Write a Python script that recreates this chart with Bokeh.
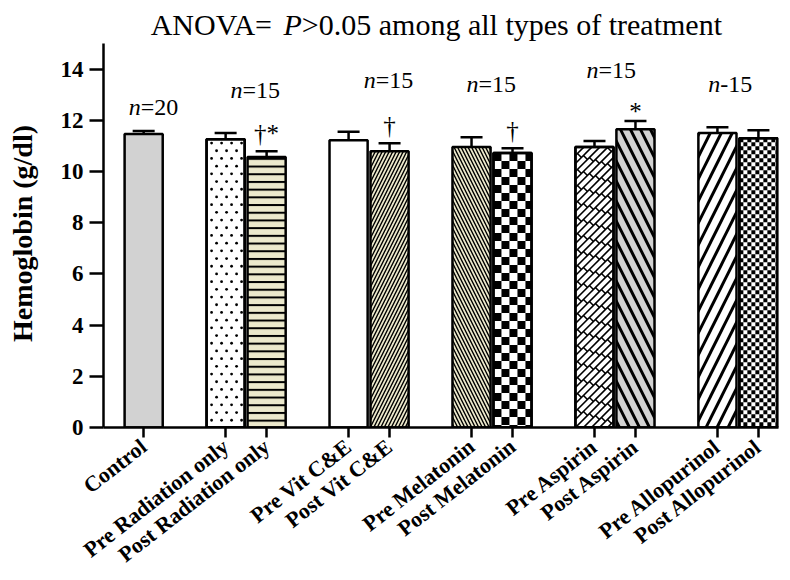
import math
from bokeh.plotting import figure
from bokeh.models import (ColumnDataSource, FixedTicker, Whisker, TeeHead, Label, Range1d)
from bokeh.core.properties import value
from bokeh.embed import file_html
from bokeh.resources import INLINE

# ---------------- data ----------------
groups = ["Control", "Radiation only", "Vit C&E", "Melatonin", "Aspirin", "Allopurinol"]
categories = ["Control",
              "Pre Radiation only", "Post Radiation only",
              "Pre Vit C&E", "Post Vit C&E",
              "Pre Melatonin", "Post Melatonin",
              "Pre Aspirin", "Post Aspirin",
              "Pre Allopurinol", "Post Allopurinol"]
hemoglobin = [11.46, 11.26, 10.56, 11.22, 10.79, 10.95, 10.72, 10.95, 11.65, 11.50, 11.30]
sem = [0.12, 0.24, 0.23, 0.33, 0.31, 0.39, 0.19, 0.24, 0.32, 0.23, 0.31]
group_n = ["20", "15", "15", "15", "15", "15"]
n_sign = ["=", "=", "=", "=", "=", "-"]
markers = ["", "", "†*", "", "†", "", "†", "", "*", "", ""]
y_ticks = [0, 2, 4, 6, 8, 10, 12, 14]

# ---------------- layout helpers ----------------
def slot(i):
    if i == 0:
        return 0
    g = (i - 1) // 2 + 1
    return 2 + 3 * (g - 1) + (i - 1) % 2

xs = [slot(i) for i in range(len(categories))]
group_centers = [0] + [2.5 + 3 * k for k in range(len(groups) - 1)]
n_shift = [-0.07, -0.09, 0.16, -0.33, -0.40, -0.43]
n_y = [12.5, 13.17, 13.56, 13.4, 13.95, 13.4]

FONT = "Liberation Serif"
BEIGE = "#ece9cc"
GREY = "#d2d2d2"
BAR_W = 0.93

X0, X1 = -0.98, 15.49
Y0, Y1 = 0, 16.52
FW, FH = 675, 423
PXX = FW / (X1 - X0)
PXY = FH / (Y1 - Y0)

styles = [
    dict(fill=GREY, hatch=None),
    dict(fill="white", hatch=None, dots=(10, 7.7)),
    dict(fill=BEIGE, hatch="horizontal_line", scale=7.7, weight=2),
    dict(fill="white", hatch=None),
    dict(fill=BEIGE, hatch="right_diagonal_line", scale=7, weight=1.4),
    dict(fill=BEIGE, hatch="left_diagonal_line", scale=7, weight=1.4),
    dict(fill="white", hatch=None, checker=8),
    dict(fill="white", hatch=None, brick=(8, 12)),
    dict(fill=GREY, hatch="left_diagonal_line", scale=20, weight=3),
    dict(fill="white", hatch="right_diagonal_line", scale=22, weight=3),
    dict(fill="white", hatch=None, checker=4),
]

# ---------------- figure ----------------
p = figure(width=780, height=570, output_backend="svg", toolbar_location=None,
           x_range=Range1d(X0, X1), y_range=Range1d(Y0, Y1),
           min_border_left=103, min_border_right=2, min_border_top=4, min_border_bottom=143,
           frame_width=FW, frame_height=FH)
p.outline_line_color = None
p.grid.visible = False
p.background_fill_color = "white"


def checker_quads(xc, h, c):
    cw, ch = c / PXX, c / PXY
    left0, right0 = xc - BAR_W / 2, xc + BAR_W / 2
    L, R, B, T = [], [], [], []
    for r in range(math.ceil(h / ch)):
        for k in range(math.ceil(BAR_W / cw)):
            if (r + k) % 2 == 0:
                L.append(left0 + k * cw)
                R.append(min(left0 + (k + 1) * cw, right0))
                T.append(h - r * ch)
                B.append(max(h - (r + 1) * ch, 0))
    return L, R, B, T


def dot_grid(xc, h, dx, dy):
    W, H = BAR_W * PXX, h * PXY
    left0 = xc - BAR_W / 2
    X, Y = [], []
    r = 0
    py = H - dy / 2
    while py > 2:
        px = 5 + (r % 2) * dx / 2
        while px < W - 3:
            X.append(left0 + px / PXX)
            Y.append(py / PXY)
            px += dx
        py -= dy
        r += 1
    return X, Y


def brick_segs(xc, h, s, blen):
    W, H = BAR_W * PXX, h * PXY
    left0 = xc - BAR_W / 2
    X0s, Y0s, X1s, Y1s = [], [], [], []

    def add(ax, ay, bx, by):
        X0s.append(left0 + ax / PXX); Y0s.append(ay / PXY)
        X1s.append(left0 + bx / PXX); Y1s.append(by / PXY)

    k0 = -math.ceil(W / s) - 1
    k1 = math.ceil(H / s) + 1
    for k in range(k0, k1):
        c = k * s
        xa, xb = max(0.0, -c), min(W, H - c)
        if xb > xa:
            add(xa, xa + c, xb, xb + c)
        off = (k % 2) * blen / 2
        j = -3
        while True:
            x = j * blen + off
            if x - s / 2 > W:
                break
            ex, ey = x - s / 2, x + c + s / 2
            if 0 <= x <= W and 0 <= x + c <= H and 0 <= ex <= W and 0 <= ey <= H:
                add(x, x + c, ex, ey)
            j += 1
    return X0s, Y0s, X1s, Y1s


for i, cat in enumerate(categories):
    st = styles[i]
    src = ColumnDataSource(dict(x=[xs[i]], top=[hemoglobin[i]]))
    kw = dict(x="x", top="top", bottom=0, width=BAR_W, source=src,
              fill_color=st["fill"], line_color="black", line_width=2.5)
    if st.get("hatch"):
        kw.update(hatch_pattern=st["hatch"], hatch_color="black",
                  hatch_scale=st["scale"], hatch_weight=st["weight"])
    p.vbar(**kw)
    extra = False
    if st.get("checker"):
        L, R, B, T = checker_quads(xs[i], hemoglobin[i], st["checker"])
        p.quad(left=L, right=R, bottom=B, top=T, fill_color="black", line_color=None)
        extra = True
    if st.get("brick"):
        a, b, c2, d = brick_segs(xs[i], hemoglobin[i], *st["brick"])
        p.segment(x0=a, y0=b, x1=c2, y1=d, line_color="black", line_width=1.6)
        extra = True
    if st.get("dots"):
        X, Y = dot_grid(xs[i], hemoglobin[i], *st["dots"])
        p.scatter(x=X, y=Y, marker="circle", size=2.8, fill_color="black", line_color=None)
        extra = True
    if extra:
        p.vbar(x=[xs[i]], top=[hemoglobin[i]], bottom=0, width=BAR_W,
               fill_color=None, line_color="black", line_width=2.5)

err_top = [h + s for h, s in zip(hemoglobin, sem)]
err_src = ColumnDataSource(dict(x=xs, lower=hemoglobin, upper=err_top))
wh = Whisker(base="x", lower="lower", upper="upper", source=err_src,
             line_color="black", line_width=2.5,
             upper_head=TeeHead(size=22, line_color="black", line_width=2.5),
             lower_head=None, level="glyph")
p.add_layout(wh)

# significance markers (a lone asterisk sits high in its em box, so nudge it down)
mk_src = ColumnDataSource(dict(x=xs, y=err_top, t=markers,
                               off=[4 if m == "*" else -4 for m in markers]))
p.text(x="x", y="y", text="t", source=mk_src, text_font=value(FONT),
       text_font_size="25px", text_align="center", text_baseline="bottom",
       y_offset="off", text_color="black")

# n labels
nx = [c + d for c, d in zip(group_centers, n_shift)]
p.text(x=nx, y=n_y, text=["n"] * len(nx), text_font=value(FONT),
       text_font_style="italic", text_font_size="24px", text_align="right",
       text_baseline="alphabetic", text_color="black")
p.text(x=nx, y=n_y, text=[s + n for s, n in zip(n_sign, group_n)], text_font=value(FONT),
       text_font_size="24px", text_align="left", text_baseline="alphabetic",
       text_color="black")

# title with italic P
TY = 15.74
TS = "30px"
p.add_layout(Label(x=0.17, y=TY, text="ANOVA=", text_font=FONT, text_font_size=TS,
                   text_color="black", text_align="left", text_baseline="alphabetic"))
p.add_layout(Label(x=3.41, y=TY, text="P", text_font=FONT, text_font_size=TS,
                   text_font_style="italic", text_color="black",
                   text_align="left", text_baseline="alphabetic"))
p.add_layout(Label(x=3.86, y=TY, text=">0.05 among all types of treatment", text_font=FONT,
                   text_font_size=TS, text_color="black",
                   text_align="left", text_baseline="alphabetic"))

# axes
p.xaxis.ticker = FixedTicker(ticks=xs)
p.xaxis.major_label_overrides = {x: c for x, c in zip(xs, categories)}
p.xaxis.major_label_orientation = math.radians(38)
p.yaxis.ticker = FixedTicker(ticks=y_ticks)
p.yaxis.bounds = (0, 15)
for ax in (p.xaxis[0], p.yaxis[0]):
    ax.axis_line_width = 2.5
    ax.axis_line_color = "black"
    ax.major_tick_line_width = 2.5
    ax.major_tick_line_color = "black"
    ax.major_tick_in = 0
    ax.minor_tick_line_color = None
    ax.major_label_text_font = FONT
    ax.major_label_text_font_style = "bold"
    ax.major_label_text_color = "black"
p.xaxis.major_tick_out = 10
p.yaxis.major_tick_out = 14
p.xaxis.major_label_text_font_size = "22px"
p.xaxis.major_label_standoff = 6
p.yaxis.major_label_text_font_size = "23px"
p.yaxis.major_label_standoff = 6
p.yaxis.axis_label = "Hemoglobin (g/dl)" + "\u00a0" * 5
p.yaxis.axis_label_text_font = FONT
p.yaxis.axis_label_text_font_style = "bold"
p.yaxis.axis_label_text_font_size = "28px"
p.yaxis.axis_label_text_color = "black"
p.yaxis.axis_label_standoff = 20

open("out.html", "w").write(file_html(p, INLINE))
